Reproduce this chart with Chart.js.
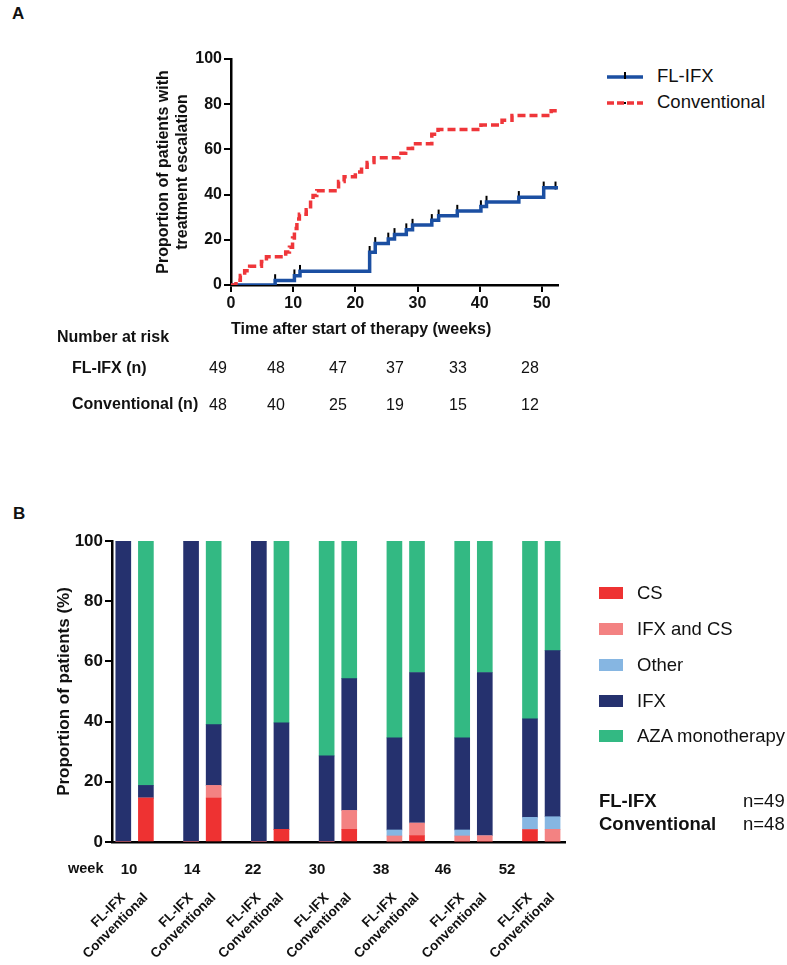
<!DOCTYPE html>
<html>
<head>
<meta charset="utf-8">
<script src="https://cdn.jsdelivr.net/npm/chart.js@4.4.1/dist/chart.umd.min.js"></script>
<style>
  body { margin: 0; background: #fff; }
  #wrap { position: relative; width: 787px; height: 965px; font-family: "Liberation Sans", Arial, sans-serif; color: #111; }
  #wrap canvas { position: absolute; }
  .t { position: absolute; white-space: nowrap; line-height: 1; transform: translateY(-50%); }
  .c { transform: translate(-50%, -50%); }
  .b { font-weight: bold; }
</style>
</head>
<body>
<div id="wrap">
  <div class="t b" style="left:12px;top:13px;font-size:17px">A</div>
  <div class="t b" style="left:13px;top:513px;font-size:17px">B</div>
  <canvas id="km" width="600" height="345" style="left:0;top:0"></canvas>
  <canvas id="bars" width="600" height="465" style="left:0;top:500px"></canvas>
  <div id="kmLegend"></div>
  <div id="risk"></div>
  <div id="barLegend"></div>
  <div id="weekRow"></div>
</div>
<script>
// ---------- panel A data ----------
var ifxWeeks = [0, 7.1, 10.2, 11.1, 22.3, 23.2, 25.3, 26.3, 28.2, 29.2, 32.3, 33.4, 36.4, 40.2, 41.1, 46.3, 50.3, 52.6];
var ifxPct   = [0, 2.0, 4.1, 6.1, 14.5, 18.4, 20.4, 22.4, 24.5, 26.5, 28.6, 30.6, 32.7, 34.7, 36.7, 38.8, 43.0, 43.0];
var ifxCensorWeeks = [7.1, 10.2, 11.1, 22.3, 23.2, 25.3, 26.3, 28.2, 29.2, 32.3, 33.4, 36.4, 40.2, 41.1, 46.3, 50.3, 52.2];

var convWeeks = [0, 0.8, 1.5, 2.2, 3.0, 4.9, 5.7, 8.8, 9.4, 9.9, 10.2, 10.6, 11.0, 12.1, 12.8, 13.2, 13.8, 17.3, 18.2, 20.0, 21.0, 21.9, 23.0, 27.0, 28.1, 29.2, 32.3, 33.3, 40.2, 43.6, 45.2, 51.5, 52.6];
var convPct   = [0, 2.1, 4.2, 6.3, 8.3, 10.4, 12.5, 14.6, 16.7, 20.8, 25.0, 29.2, 31.3, 33.3, 37.5, 39.6, 41.7, 45.8, 47.9, 50.0, 52.1, 54.2, 56.3, 58.3, 60.4, 62.5, 66.7, 68.8, 70.8, 72.9, 75.0, 77.1, 77.1];

var riskWeeks = [0, 10, 20, 30, 40, 50];
var riskIFX   = [49, 48, 47, 37, 33, 28];
var riskConv  = [48, 40, 25, 19, 15, 12];

// ---------- panel B data ----------
var weeks = [10, 14, 22, 30, 38, 46, 52];
var arms = ['FL-IFX', 'Conventional'];
var seriesNames  = ['CS', 'IFX and CS', 'Other', 'IFX', 'AZA monotherapy'];
var seriesColors = ['#ee3232', '#f38282', '#86b6e2', '#25316e', '#33b983'];

var csFL      = [0, 0, 0, 0, 0, 0, 4.1];
var csConv    = [14.6, 14.6, 4.2, 4.2, 2.1, 0, 0];
var ifxCsFL   = [0, 0, 0, 0, 2.0, 2.0, 0];
var ifxCsConv = [0, 4.2, 0, 6.3, 4.2, 2.1, 4.2];
var otherFL   = [0, 0, 0, 0, 2.0, 2.0, 4.1];
var otherConv = [0, 0, 0, 0, 0, 0, 4.2];
var ifxFL     = [100, 100, 100, 28.6, 30.6, 30.6, 32.7];
var ifxConv   = [4.2, 20.2, 35.4, 43.8, 50.0, 54.2, 55.2];
var azaFL     = [0, 0, 0, 71.4, 65.4, 65.4, 59.1];
var azaConv   = [81.2, 61.0, 60.4, 45.7, 43.7, 43.7, 36.4];

var FONT = '"Liberation Sans", Arial, sans-serif';
Chart.defaults.font.family = FONT;
Chart.defaults.color = '#111';

// ---------- panel A chart ----------
function levelAt(times, vals, t) {
  var v = 0;
  for (var i = 0; i < times.length; i++) { if (times[i] <= t) v = vals[i]; }
  return v;
}
function pts(xs, ys) { return xs.map(function (x, i) { return {x: x, y: ys[i]}; }); }

var blue = '#1b4fa2', red = '#ef363a';

new Chart(document.getElementById('km'), {
  type: 'line',
  data: {
    datasets: [
      { label: 'Conventional', data: pts(convWeeks, convPct), stepped: true, borderColor: red,
        borderWidth: 3.5, borderDash: [8, 4], pointRadius: 0, fill: false },
      { label: 'FL-IFX', data: pts(ifxWeeks, ifxPct), stepped: true, borderColor: blue,
        borderWidth: 3.5, pointRadius: 0, fill: false },
      { label: 'censored', showLine: false,
        data: ifxCensorWeeks.map(function (w) { return {x: w, y: levelAt(ifxWeeks, ifxPct, w) + 1}; }),
        pointStyle: 'line', pointRotation: 90, pointRadius: 4, pointBorderWidth: 2,
        pointBorderColor: '#000', pointBackgroundColor: '#000' }
    ]
  },
  options: {
    responsive: false, animation: false,
    layout: { padding: { left: 0, top: 59, right: 42, bottom: 0 } },
    plugins: { legend: { display: false }, tooltip: { enabled: false } },
    scales: {
      x: {
        type: 'linear', min: 0, max: 52.6,
        afterFit: function (s) { s.height = 60; },
        grid: { drawOnChartArea: false, tickLength: 7, color: '#000', lineWidth: 2 },
        border: { color: '#000', width: 2.5 },
        ticks: { stepSize: 10, includeBounds: false, padding: 2, font: { size: 16, weight: 'bold' } },
        title: { display: true, text: 'Time after start of therapy (weeks)', align: 'start',
                 font: { size: 16, weight: 'bold' }, padding: { top: 0, bottom: 6 } }
      },
      y: {
        min: 0, max: 100,
        afterFit: function (s) { s.width = 231; },
        grid: { drawOnChartArea: false, tickLength: 7, color: '#000', lineWidth: 2 },
        border: { color: '#000', width: 2.5 },
        ticks: { stepSize: 20, padding: 2, font: { size: 16, weight: 'bold' } },
        title: { display: true, text: ['Proportion of patients with', 'treatment escalation'],
                 font: { size: 16, weight: 'bold' }, padding: { top: 154, bottom: 0 } }
      }
    }
  }
});

// legend A
var kmLeg = document.getElementById('kmLegend');
kmLeg.innerHTML =
  '<svg style="position:absolute;left:607px;top:70px" width="40" height="14">' +
  '<line x1="0" y1="7" x2="36" y2="7" stroke="' + blue + '" stroke-width="3.5"/>' +
  '<line x1="18" y1="2" x2="18" y2="9" stroke="#000" stroke-width="2"/></svg>' +
  '<svg style="position:absolute;left:607px;top:96px" width="40" height="14">' +
  '<line x1="0" y1="7" x2="36" y2="7" stroke="' + red + '" stroke-width="3.5" stroke-dasharray="7 3"/>' +
  '<rect x="17" y="6" width="2" height="2" fill="#000"/></svg>' +
  '<div class="t" style="left:657px;top:76px;font-size:18.5px">FL-IFX</div>' +
  '<div class="t" style="left:657px;top:102px;font-size:18.5px">Conventional</div>';

// number at risk table
var riskCols = [218, 276, 338, 395, 458, 530];
var html = '<div class="t b" style="left:57px;top:337px;font-size:16px">Number at risk</div>' +
  '<div class="t b" style="left:72px;top:368px;font-size:16px">FL-IFX (n)</div>' +
  '<div class="t b" style="left:72px;top:404px;font-size:16px">Conventional (n)</div>';
riskWeeks.forEach(function (w, i) {
  html += '<div class="t c" style="left:' + riskCols[i] + 'px;top:368px;font-size:16px">' + riskIFX[i] + '</div>';
  html += '<div class="t c" style="left:' + riskCols[i] + 'px;top:405px;font-size:16px">' + riskConv[i] + '</div>';
});
document.getElementById('risk').innerHTML = html;

// ---------- panel B chart ----------
var barX = [];
weeks.forEach(function (w, g) { barX.push(g * 3, g * 3 + 1); });
function interleave(a, b) {
  var out = [];
  a.forEach(function (v, i) { out.push(v, b[i]); });
  return out;
}
var flSeries   = [csFL, ifxCsFL, otherFL, ifxFL, azaFL];
var convSeries = [csConv, ifxCsConv, otherConv, ifxConv, azaConv];

new Chart(document.getElementById('bars'), {
  type: 'bar',
  data: {
    datasets: seriesNames.map(function (name, k) {
      return {
        label: name,
        data: interleave(flSeries[k], convSeries[k]).map(function (v, i) { return {x: barX[i], y: v}; }),
        backgroundColor: seriesColors[k],
        borderWidth: 0,
        barThickness: 15
      };
    })
  },
  options: {
    responsive: false, animation: false,
    layout: { padding: { left: 0, top: 41, right: 35, bottom: 0 } },
    plugins: { legend: { display: false }, tooltip: { enabled: false } },
    scales: {
      x: {
        type: 'linear', stacked: true, offset: false, min: -0.5, max: 19.55,
        afterFit: function (s) { s.height = 123; },
        afterBuildTicks: function (s) { s.ticks = barX.map(function (v) { return {value: v}; }); },
        // invisible tick marks push the slanted labels below the week row
        grid: { offset: false, drawOnChartArea: false, drawTicks: true, tickLength: 46, color: 'rgba(0,0,0,0)' },
        border: { color: '#000', width: 2.5 },
        ticks: {
          autoSkip: false, minRotation: 45, maxRotation: 45, padding: 2,
          font: { size: 13.5, weight: 'bold' },
          callback: function (v, i) { return arms[i % 2]; }
        }
      },
      y: {
        stacked: true, min: 0, max: 100,
        afterFit: function (s) { s.width = 112; },
        grid: { drawOnChartArea: false, tickLength: 7, color: '#000', lineWidth: 2 },
        border: { color: '#000', width: 2.5 },
        ticks: { stepSize: 20, padding: 2, font: { size: 17, weight: 'bold' } },
        title: { display: true, text: 'Proportion of patients (%)',
                 font: { size: 17, weight: 'bold' }, padding: { top: 54, bottom: 0 } }
      }
    }
  }
});

// week row under the bars
var weekCols = [129, 192, 253, 317, 381, 443, 507];
var wh = '<div class="t b" style="left:68px;top:868px;font-size:14.5px">week</div>';
weeks.forEach(function (w, i) {
  wh += '<div class="t b c" style="left:' + weekCols[i] + 'px;top:868px;font-size:15px">' + w + '</div>';
});
document.getElementById('weekRow').innerHTML = wh;

// legend B
var rowY = [593, 629, 665, 701, 736];
var lh = '';
seriesNames.forEach(function (name, k) {
  lh += '<div style="position:absolute;left:599px;top:' + (rowY[k] - 6) + 'px;width:24px;height:12px;background:' + seriesColors[k] + '"></div>';
  lh += '<div class="t" style="left:637px;top:' + rowY[k] + 'px;font-size:18.5px">' + name + '</div>';
});
lh += '<div class="t b" style="left:599px;top:801px;font-size:18.5px">FL-IFX</div>' +
      '<div class="t" style="left:743px;top:801px;font-size:18.5px">n=49</div>' +
      '<div class="t b" style="left:599px;top:824px;font-size:18.5px">Conventional</div>' +
      '<div class="t" style="left:743px;top:824px;font-size:18.5px">n=48</div>';
document.getElementById('barLegend').innerHTML = lh;
</script>
</body>
</html>
